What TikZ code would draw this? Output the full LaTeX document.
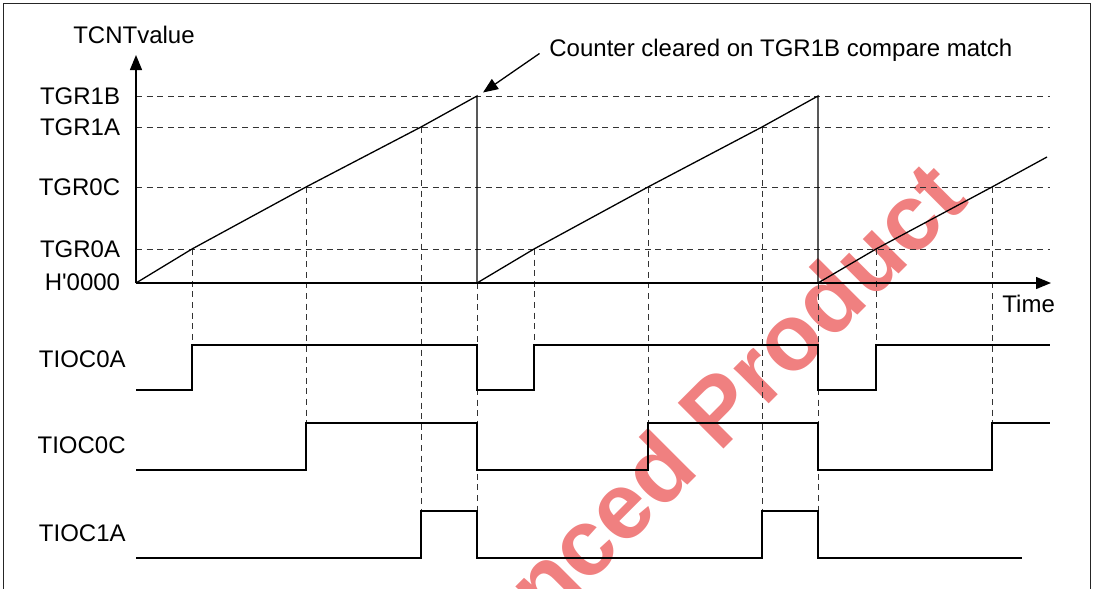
\documentclass[tikz,border=0pt]{standalone}
\usepackage{fontspec}
\setmainfont{Liberation Sans}[Ligatures=TeXOff]
\usepackage{tikz}
\usetikzlibrary{arrows.meta}
\definecolor{stampred}{RGB}{240,128,128}
\tikzset{
  frameline/.style = {line width=0.5pt, black!85},
  axisline/.style  = {-{Triangle[length=7.5pt,width=6pt]}, line width=0.65pt},
  levelline/.style = {dash pattern=on 3pt off 2.3pt, line width=0.5pt, black!80},
  wave/.style      = {line width=0.65pt},
  lbl/.style       = {font=\fontsize{12}{14}\selectfont, inner sep=0pt},
  stamp/.style     = {font=\fontsize{47}{51}\selectfont\bfseries, text=stampred,
                      rotate=45, inner sep=0pt},
}

\begin{document}
\begin{tikzpicture}[x=0.5pt, y=-0.5pt]
  \useasboundingbox (0,0) rectangle (1098,589);
  \begin{scope}
    \clip (0,0) rectangle (1098,589);
    \node[stamp, anchor=base] (stamp) at (758.7,414.3) {nced Product};
  \end{scope}
  % frame, open at the bottom
  \draw[frameline] (3.5,589) -- (3.5,3) -- (1090,3) -- (1090,589);

  % compare levels
  \foreach \y/\name in {96/TGR1B, 127/TGR1A, 187/TGR0C, 249/TGR0A} {
    \draw[levelline] (136,\y) -- (1050,\y);
    \node[lbl, anchor=east] (lv-\name) at (120.5,\y) {\name};
  }
  \node[lbl, anchor=east] (lv-zero) at (120.5,282.5) {H'0000};

  % compare match marks
  \foreach \x in {192,534,876} \draw[levelline] (\x,249) -- (\x,345);
  \foreach \x in {306,648,992} \draw[levelline] (\x,187) -- (\x,423);
  \foreach \x in {421,762}     \draw[levelline] (\x,127) -- (\x,511);
  \foreach \x in {477,818}     \draw[levelline] (\x,283) -- (\x,511);

  % counter ramps
  \foreach \xs/\xa/\xc/\xe/\xf in {136/192/306/421/477, 477/534/648/762/818} {
    \draw[wave] (\xs,283) -- (\xa,249) -- (\xc,187) -- (\xe,127) -- (\xf,96) -- (\xf,283);
  }
  \draw[wave] (818,283) -- (876,249) -- (992,187) -- (1047,157);

  % axes
  \coordinate (origin) at (136,283);
  \coordinate (ytip) at (136,55);
  \coordinate (xtip) at (1051,283);
  \draw[axisline] (origin) -- (ytip);
  \draw[axisline] (origin) -- (xtip);
  \node[lbl] (tcnt) at (134,35) {TCNTvalue};
  \node[lbl, anchor=west] (time) at (1002,303.5) {Time};

  % note on clearing
  \node[lbl, anchor=base west] (note) at (549,56) {Counter cleared on TGR1B compare match};
  \coordinate (notetail) at (539.5,53.5);
  \coordinate (notetip) at (483,92.5);
  \draw[axisline] (notetail) -- (notetip);

  % output waveforms
  \node[lbl, anchor=east] (s0a) at (126,359) {TIOC0A};
  \node[lbl, anchor=east] (s0c) at (126,445.5) {TIOC0C};
  \node[lbl, anchor=east] (s1a) at (126,533.5) {TIOC1A};
  \draw[wave] (136,390) -| (192,345) -| (477,390) -| (534,345) -| (818,390) -| (876,345) -- (1050,345);
  \draw[wave] (136,470) -| (306,423) -| (477,470) -| (648,423) -| (818,470) -| (992,423) -- (1050,423);
  \draw[wave] (136,558) -| (421,511) -| (477,558) -| (762,511) -| (818,558) -- (1022,558);
\end{tikzpicture}
\end{document}
